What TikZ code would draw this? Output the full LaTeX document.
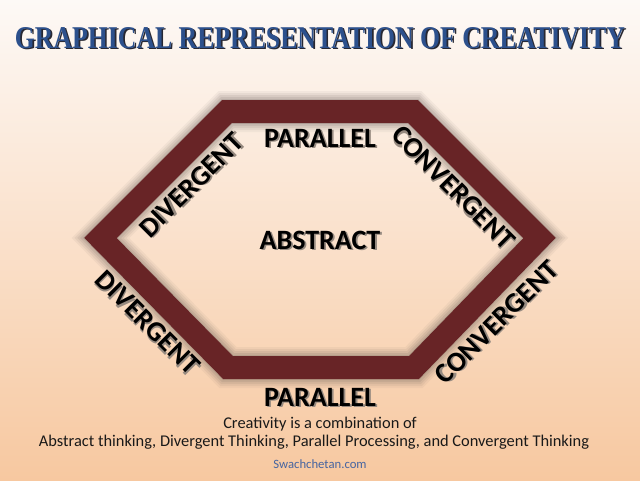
\documentclass[tikz,border=0pt]{standalone}
\usepackage{fontspec}
\setmainfont{Carlito}
\newfontfamily\titlefont{Liberation Serif}
\usetikzlibrary{shadings}
\definecolor{bgtop}{RGB}{253,249,246}
\definecolor{bgbot}{RGB}{247,200,160}
\definecolor{band}{RGB}{104,36,38}
\definecolor{shadowc}{RGB}{95,85,80}
\definecolor{txtsh}{RGB}{150,138,128}
\definecolor{titlesh}{RGB}{40,40,50}
\definecolor{titleblue}{RGB}{44,80,140}
\definecolor{webblue}{RGB}{70,100,160}
\newcommand\shadowed[1]{\rlap{\kern1.8pt\raisebox{-1.8pt}{\textcolor{txtsh}{#1}}}#1}
\newcommand\titletext{\resizebox{610pt}{21pt}{\titlefont\bfseries GRAPHICAL REPRESENTATION OF CREATIVITY}}
\tikzset{
  lbl/.style={font=\fontsize{28}{32}\selectfont\bfseries, text=black, inner sep=0pt},
  body/.style={font=\fontsize{16.4}{19}\selectfont, text=black!90, inner sep=0pt},
  bandline/.style={draw=band, line width=23pt, line join=miter},
}
\begin{document}
\begin{tikzpicture}[x=1pt,y=-1pt]
  \useasboundingbox (0,0) rectangle (640,480);
  \shade[top color=bgtop, bottom color=bgbot] (0,0) rectangle (640,480);
  % hexagon vertices (centerline of band)
  \coordinate (tl) at (227,111.5);
  \coordinate (tr) at (413,111.5);
  \coordinate (r) at (539.5,238);
  \coordinate (br) at (414,367.5);
  \coordinate (bl) at (228,367.5);
  \coordinate (l) at (100.5,238);
  % blurred shadow, shifted up
  \begin{scope}[yshift=20pt]
    \foreach \w/\o in {41/0.06,37/0.08,33/0.1,29/0.12,25/0.15,21/0.18,17/0.18} {
      \draw[shadowc, line width=\w pt, line join=miter, opacity=\o]
        (tl) -- (tr) -- (r) -- (br) -- (bl) -- (l) -- cycle;
    }
  \end{scope}
  % band
  \draw[bandline] (tl) -- (tr) -- (r) -- (br) -- (bl) -- (l) -- cycle;
  % title
  \node[text=titleblue, inner sep=0pt, anchor=base] (title) at (320,48)
    {\rlap{\kern1.6pt\raisebox{-1.6pt}{\textcolor{titlesh}{\titletext}}}\titletext};
  % labels
  \node[lbl] (ptop) at (320,139) {\shadowed{PARALLEL}};
  \node[lbl] (abs) at (320,241) {\shadowed{ABSTRACT}};
  \node[lbl, rotate=45] (divin) at (192,186) {\shadowed{DIVERGENT}};
  \node[lbl, rotate=-45] (conin) at (453,188) {\shadowed{CONVERGENT}};
  \node[lbl, rotate=-45] (divout) at (147,323) {\shadowed{DIVERGENT}};
  \node[lbl, rotate=45] (conout) at (497,323) {\shadowed{CONVERGENT}};
  \node[lbl] (pbot) at (320,398) {\shadowed{PARALLEL}};
  % captions
  \node[body] (cap1) at (320,424) {Creativity is a combination of};
  \node[body] (cap2) at (314,442) {Abstract thinking, Divergent Thinking, Parallel Processing, and Convergent Thinking};
  \node[font=\fontsize{12.7}{15}\selectfont, text=webblue, inner sep=0pt] (web) at (320,464) {Swachchetan.com};
\end{tikzpicture}
\end{document}
